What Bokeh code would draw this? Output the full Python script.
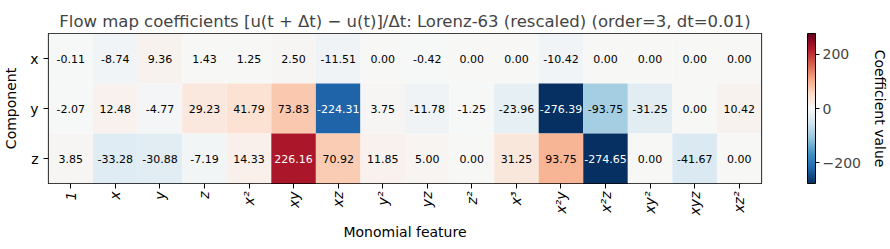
import math
from bokeh.plotting import figure
from bokeh.models import (ColumnDataSource, LinearColorMapper, ColorBar, FixedTicker,
                          Range1d, Title, LinearAxis)
from bokeh.transform import transform
from bokeh.core.properties import value
from bokeh.embed import file_html
from bokeh.resources import INLINE

components = ["x", "y", "z"]
features = ["1", "x", "y", "z", "x²", "xy", "xz", "y²", "yz", "z²",
            "x³", "x²y", "x²z", "xy²", "xyz", "xz²"]
coef_x = [-0.11, -8.74, 9.36, 1.43, 1.25, 2.50, -11.51, 0.00, -0.42, 0.00,
          0.00, -10.42, 0.00, 0.00, 0.00, 0.00]
coef_y = [-2.07, 12.48, -4.77, 29.23, 41.79, 73.83, -224.31, 3.75, -11.78, -1.25,
          -23.96, -276.39, -93.75, -31.25, 0.00, 10.42]
coef_z = [3.85, -33.28, -30.88, -7.19, 14.33, 226.16, 70.92, 11.85, 5.00, 0.00,
          31.25, 93.75, -274.65, 0.00, -41.67, 0.00]
colorbar_ticks = [-200, 0, 200]
rows = {"x": coef_x, "y": coef_y, "z": coef_z}

# matplotlib RdBu_r anchor colours
rdbu = [(0.403921568627, 0.0, 0.121568627451), (0.698, 0.094, 0.169), (0.839, 0.376, 0.302),
        (0.957, 0.647, 0.510), (0.992, 0.859, 0.780), (0.969, 0.969, 0.969),
        (0.820, 0.898, 0.941), (0.573, 0.773, 0.871), (0.263, 0.576, 0.765),
        (0.129, 0.4, 0.675), (0.020, 0.188, 0.380)][::-1]
palette = []
N = 256
for i in range(N):
    t = i / (N - 1) * (len(rdbu) - 1)
    k = min(int(t), len(rdbu) - 2)
    f = t - k
    c = [rdbu[k][j] + (rdbu[k + 1][j] - rdbu[k][j]) * f for j in range(3)]
    palette.append("#%02x%02x%02x" % tuple(int(round(v * 255)) for v in c))

ncol, nrow = len(features), len(components)
xs, ys, vals, labels, tcols = [], [], [], [], []
allvals = [v for c in components for v in rows[c]]
vmax = max(abs(v) for v in allvals)
for r, c in enumerate(components):
    for i, v in enumerate(rows[c]):
        xs.append(i + 0.5)
        ys.append(nrow - r - 0.5)
        vals.append(v)
        labels.append("%.2f" % v)
        tcols.append("white" if abs(v) > 0.6 * vmax else "black")
src = ColumnDataSource(dict(x=xs, y=ys, v=vals, label=labels, tc=tcols))

mapper = LinearColorMapper(palette=palette, low=-vmax, high=vmax)

FONT = "DejaVu Sans"
p = figure(width=890, height=249, output_backend="svg", toolbar_location=None,
           x_range=Range1d(0, ncol), y_range=Range1d(0, nrow),
           min_border_left=48, min_border_right=128, min_border_top=33, min_border_bottom=66)
p.title = Title(text="Flow map coefficients [u(t + Δt) − u(t)]/Δt: Lorenz-63 (rescaled) (order=3, dt=0.01)",
                align="center", text_font=FONT, text_font_size="16.5px", text_font_style="normal",
                standoff=6)
p.rect(x="x", y="y", width=1, height=1, source=src,
       fill_color=transform("v", mapper), line_color=None)
p.text(x="x", y="y", text="label", source=src, text_align="center", text_baseline="middle",
       text_font=value(FONT), text_font_size="11px", text_color="tc")

p.outline_line_color = "black"
p.outline_line_width = 1.2
p.grid.visible = False
p.xaxis.ticker = FixedTicker(ticks=[i + 0.5 for i in range(ncol)])
p.xaxis.major_label_overrides = {i + 0.5: f for i, f in enumerate(features)}
p.yaxis.ticker = FixedTicker(ticks=[nrow - r - 0.5 for r in range(nrow)])
p.yaxis.major_label_overrides = {nrow - r - 0.5: c for r, c in enumerate(components)}
for ax in (p.xaxis[0], p.yaxis[0]):
    ax.axis_line_color = None
    ax.major_tick_out = 5
    ax.major_tick_in = 0
    ax.minor_tick_line_color = None
    ax.major_tick_line_color = "black"
    ax.major_label_text_font = FONT
    ax.major_label_text_font_size = "14px"
    ax.major_label_text_color = "black"
    ax.axis_label_text_font = FONT
    ax.axis_label_text_font_size = "14px"
    ax.axis_label_text_font_style = "normal"
    ax.axis_label_text_color = "black"
p.xaxis.major_label_orientation = math.pi / 2
p.xaxis.major_label_text_font_style = "italic"
p.xaxis.major_label_standoff = 3
p.yaxis.major_label_orientation = "horizontal"
p.xaxis.axis_label = "Monomial feature"
p.yaxis.axis_label = "Component"
p.xaxis.axis_label_standoff = 6
p.yaxis.axis_label_standoff = 8

cb = ColorBar(color_mapper=mapper, location=(759, 0), width=8, height=150,
              padding=0, margin=0, ticker=FixedTicker(ticks=colorbar_ticks),
              major_tick_in=0, major_tick_out=4, major_tick_line_color="black",
              bar_line_color="black", major_label_text_font=FONT,
              major_label_text_font_size="14px", label_standoff=3,
              major_label_overrides={-200: "−200"}, background_fill_alpha=0)
p.add_layout(cb, "center")

p.extra_y_ranges = {"cb": Range1d(0, 1)}
rax = LinearAxis(y_range_name="cb", ticker=FixedTicker(ticks=[]), axis_line_color=None,
                 major_tick_line_color=None, minor_tick_line_color=None,
                 major_tick_out=0, major_tick_in=0, major_label_standoff=0,
                 axis_label="Coefficient value", axis_label_standoff=110,
                 axis_label_text_font=FONT, axis_label_text_font_size="14px",
                 axis_label_text_font_style="normal", axis_label_text_color="black")
p.add_layout(rax, "right")

open("out.html", "w").write(file_html(p, INLINE))
